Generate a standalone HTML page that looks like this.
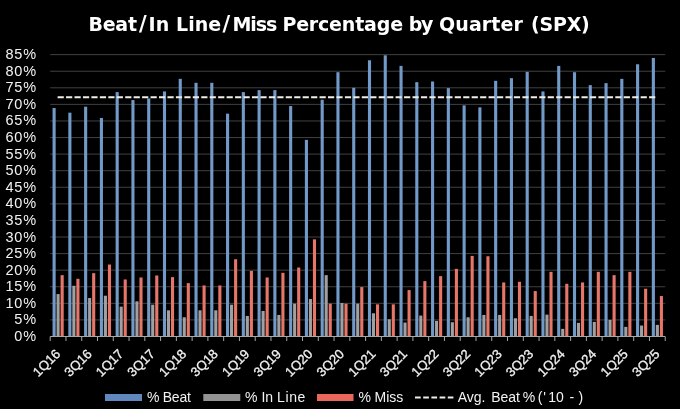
<!DOCTYPE html>
<html><head><meta charset="utf-8"><title>Beat/In Line/Miss Percentage by Quarter (SPX)</title>
<style>
html,body{margin:0;padding:0;background:#000;}
body{width:680px;height:409px;overflow:hidden;}
svg{display:block;}
text{font-family:"Liberation Sans",sans-serif;fill:#f2f2f2;}
.ti{font-family:"DejaVu Sans","Liberation Sans",sans-serif;font-weight:bold;font-size:19px;fill:#fff;}
.yl text{font-size:14.5px;letter-spacing:0.8px;}
.xl text{font-size:13.2px;stroke:#f2f2f2;stroke-width:0.3px;}
.lg{font-size:14px;}
</style></head>
<body>
<svg width="680" height="409" viewBox="0 0 680 409">
<rect width="680" height="409" fill="#000"/>
<g stroke="#404040" stroke-width="1"><line x1="50.2" y1="319.92" x2="665.23" y2="319.92"/><line x1="50.2" y1="303.34" x2="665.23" y2="303.34"/><line x1="50.2" y1="286.76" x2="665.23" y2="286.76"/><line x1="50.2" y1="270.18" x2="665.23" y2="270.18"/><line x1="50.2" y1="253.6" x2="665.23" y2="253.6"/><line x1="50.2" y1="237.02" x2="665.23" y2="237.02"/><line x1="50.2" y1="220.44" x2="665.23" y2="220.44"/><line x1="50.2" y1="203.86" x2="665.23" y2="203.86"/><line x1="50.2" y1="187.28" x2="665.23" y2="187.28"/><line x1="50.2" y1="170.7" x2="665.23" y2="170.7"/><line x1="50.2" y1="154.12" x2="665.23" y2="154.12"/><line x1="50.2" y1="137.54" x2="665.23" y2="137.54"/><line x1="50.2" y1="120.96" x2="665.23" y2="120.96"/><line x1="50.2" y1="104.38" x2="665.23" y2="104.38"/><line x1="50.2" y1="87.8" x2="665.23" y2="87.8"/><line x1="50.2" y1="71.22" x2="665.23" y2="71.22"/><line x1="50.2" y1="54.64" x2="665.23" y2="54.64"/></g>
<g fill="#729ac8"><rect x="52.55" y="108.03" width="3.1" height="228.47"/><rect x="68.32" y="112.67" width="3.1" height="223.83"/><rect x="84.09" y="106.7" width="3.1" height="229.8"/><rect x="99.86" y="117.98" width="3.1" height="218.52"/><rect x="115.63" y="92.11" width="3.1" height="244.39"/><rect x="131.4" y="100.07" width="3.1" height="236.43"/><rect x="147.17" y="98.41" width="3.1" height="238.09"/><rect x="162.94" y="91.45" width="3.1" height="245.05"/><rect x="178.71" y="78.85" width="3.1" height="257.65"/><rect x="194.48" y="82.83" width="3.1" height="253.67"/><rect x="210.25" y="82.83" width="3.1" height="253.67"/><rect x="226.02" y="113.66" width="3.1" height="222.84"/><rect x="241.79" y="92.11" width="3.1" height="244.39"/><rect x="257.56" y="90.12" width="3.1" height="246.38"/><rect x="273.33" y="90.12" width="3.1" height="246.38"/><rect x="289.1" y="106.04" width="3.1" height="230.46"/><rect x="304.87" y="139.86" width="3.1" height="196.64"/><rect x="320.64" y="99.74" width="3.1" height="236.76"/><rect x="336.41" y="72.21" width="3.1" height="264.29"/><rect x="352.18" y="87.8" width="3.1" height="248.7"/><rect x="367.95" y="60.28" width="3.1" height="276.22"/><rect x="383.72" y="55.3" width="3.1" height="281.2"/><rect x="399.49" y="65.91" width="3.1" height="270.59"/><rect x="415.26" y="82.16" width="3.1" height="254.34"/><rect x="431.03" y="81.5" width="3.1" height="255"/><rect x="446.8" y="88.13" width="3.1" height="248.37"/><rect x="462.57" y="105.37" width="3.1" height="231.13"/><rect x="478.34" y="107.36" width="3.1" height="229.14"/><rect x="494.11" y="80.84" width="3.1" height="255.66"/><rect x="509.88" y="78.18" width="3.1" height="258.32"/><rect x="525.65" y="71.88" width="3.1" height="264.62"/><rect x="541.42" y="91.45" width="3.1" height="245.05"/><rect x="557.19" y="65.91" width="3.1" height="270.59"/><rect x="572.96" y="72.21" width="3.1" height="264.29"/><rect x="588.73" y="85.15" width="3.1" height="251.35"/><rect x="604.5" y="83.16" width="3.1" height="253.34"/><rect x="620.27" y="78.85" width="3.1" height="257.65"/><rect x="636.04" y="64.26" width="3.1" height="272.24"/><rect x="651.81" y="57.96" width="3.1" height="278.54"/></g>
<g fill="#a0a0a0"><rect x="56.55" y="294.06" width="3.1" height="42.44"/><rect x="72.32" y="285.77" width="3.1" height="50.73"/><rect x="88.09" y="298.03" width="3.1" height="38.47"/><rect x="103.86" y="295.71" width="3.1" height="40.79"/><rect x="119.63" y="306.66" width="3.1" height="29.84"/><rect x="135.4" y="301.35" width="3.1" height="35.15"/><rect x="151.17" y="304.67" width="3.1" height="31.83"/><rect x="166.94" y="310.3" width="3.1" height="26.2"/><rect x="182.71" y="317.27" width="3.1" height="19.23"/><rect x="198.48" y="310.3" width="3.1" height="26.2"/><rect x="214.25" y="310.3" width="3.1" height="26.2"/><rect x="230.02" y="304.67" width="3.1" height="31.83"/><rect x="245.79" y="315.94" width="3.1" height="20.56"/><rect x="261.56" y="310.97" width="3.1" height="25.53"/><rect x="277.33" y="314.95" width="3.1" height="21.55"/><rect x="293.1" y="303.67" width="3.1" height="32.83"/><rect x="308.87" y="299.03" width="3.1" height="37.47"/><rect x="324.64" y="275.15" width="3.1" height="61.35"/><rect x="340.41" y="303.01" width="3.1" height="33.49"/><rect x="356.18" y="303.67" width="3.1" height="32.83"/><rect x="371.95" y="313.29" width="3.1" height="23.21"/><rect x="387.72" y="319.26" width="3.1" height="17.24"/><rect x="403.49" y="322.57" width="3.1" height="13.93"/><rect x="419.26" y="315.61" width="3.1" height="20.89"/><rect x="435.03" y="320.91" width="3.1" height="15.59"/><rect x="450.8" y="322.24" width="3.1" height="14.26"/><rect x="466.57" y="317.27" width="3.1" height="19.23"/><rect x="482.34" y="314.95" width="3.1" height="21.55"/><rect x="498.11" y="314.95" width="3.1" height="21.55"/><rect x="513.88" y="318.26" width="3.1" height="18.24"/><rect x="529.65" y="315.94" width="3.1" height="20.56"/><rect x="545.42" y="314.61" width="3.1" height="21.89"/><rect x="561.19" y="328.87" width="3.1" height="7.63"/><rect x="576.96" y="322.9" width="3.1" height="13.6"/><rect x="592.73" y="321.91" width="3.1" height="14.59"/><rect x="608.5" y="319.92" width="3.1" height="16.58"/><rect x="624.27" y="326.88" width="3.1" height="9.62"/><rect x="640.04" y="325.56" width="3.1" height="10.94"/><rect x="655.81" y="324.89" width="3.1" height="11.61"/></g>
<g fill="#e6756a"><rect x="60.6" y="275.15" width="3.1" height="61.35"/><rect x="76.37" y="278.8" width="3.1" height="57.7"/><rect x="92.14" y="273.16" width="3.1" height="63.34"/><rect x="107.91" y="264.54" width="3.1" height="71.96"/><rect x="123.68" y="279.46" width="3.1" height="57.04"/><rect x="139.45" y="277.48" width="3.1" height="59.02"/><rect x="155.22" y="275.49" width="3.1" height="61.01"/><rect x="170.99" y="277.14" width="3.1" height="59.36"/><rect x="186.76" y="283.11" width="3.1" height="53.39"/><rect x="202.53" y="285.43" width="3.1" height="51.07"/><rect x="218.3" y="285.43" width="3.1" height="51.07"/><rect x="234.07" y="259.24" width="3.1" height="77.26"/><rect x="249.84" y="270.84" width="3.1" height="65.66"/><rect x="265.61" y="277.48" width="3.1" height="59.02"/><rect x="281.38" y="272.83" width="3.1" height="63.67"/><rect x="297.15" y="267.53" width="3.1" height="68.97"/><rect x="312.92" y="239.34" width="3.1" height="97.16"/><rect x="328.69" y="303.67" width="3.1" height="32.83"/><rect x="344.46" y="303.67" width="3.1" height="32.83"/><rect x="360.23" y="287.09" width="3.1" height="49.41"/><rect x="376" y="304.33" width="3.1" height="32.17"/><rect x="391.77" y="304.33" width="3.1" height="32.17"/><rect x="407.54" y="290.08" width="3.1" height="46.42"/><rect x="423.31" y="281.12" width="3.1" height="55.38"/><rect x="439.08" y="276.15" width="3.1" height="60.35"/><rect x="454.85" y="268.85" width="3.1" height="67.65"/><rect x="470.62" y="255.92" width="3.1" height="80.58"/><rect x="486.39" y="256.25" width="3.1" height="80.25"/><rect x="502.16" y="282.45" width="3.1" height="54.05"/><rect x="517.93" y="281.79" width="3.1" height="54.71"/><rect x="533.7" y="291.07" width="3.1" height="45.43"/><rect x="549.47" y="271.84" width="3.1" height="64.66"/><rect x="565.24" y="283.78" width="3.1" height="52.72"/><rect x="581.01" y="282.45" width="3.1" height="54.05"/><rect x="596.78" y="271.84" width="3.1" height="64.66"/><rect x="612.55" y="275.15" width="3.1" height="61.35"/><rect x="628.32" y="271.84" width="3.1" height="64.66"/><rect x="644.09" y="288.75" width="3.1" height="47.75"/><rect x="659.86" y="296.04" width="3.1" height="40.46"/></g>
<g stroke="#a8a8a8" stroke-width="1"><line x1="50.2" y1="336.5" x2="665.23" y2="336.5"/><line x1="50.2" y1="336.5" x2="50.2" y2="341"/><line x1="65.97" y1="336.5" x2="65.97" y2="341"/><line x1="81.74" y1="336.5" x2="81.74" y2="341"/><line x1="97.51" y1="336.5" x2="97.51" y2="341"/><line x1="113.28" y1="336.5" x2="113.28" y2="341"/><line x1="129.05" y1="336.5" x2="129.05" y2="341"/><line x1="144.82" y1="336.5" x2="144.82" y2="341"/><line x1="160.59" y1="336.5" x2="160.59" y2="341"/><line x1="176.36" y1="336.5" x2="176.36" y2="341"/><line x1="192.13" y1="336.5" x2="192.13" y2="341"/><line x1="207.9" y1="336.5" x2="207.9" y2="341"/><line x1="223.67" y1="336.5" x2="223.67" y2="341"/><line x1="239.44" y1="336.5" x2="239.44" y2="341"/><line x1="255.21" y1="336.5" x2="255.21" y2="341"/><line x1="270.98" y1="336.5" x2="270.98" y2="341"/><line x1="286.75" y1="336.5" x2="286.75" y2="341"/><line x1="302.52" y1="336.5" x2="302.52" y2="341"/><line x1="318.29" y1="336.5" x2="318.29" y2="341"/><line x1="334.06" y1="336.5" x2="334.06" y2="341"/><line x1="349.83" y1="336.5" x2="349.83" y2="341"/><line x1="365.6" y1="336.5" x2="365.6" y2="341"/><line x1="381.37" y1="336.5" x2="381.37" y2="341"/><line x1="397.14" y1="336.5" x2="397.14" y2="341"/><line x1="412.91" y1="336.5" x2="412.91" y2="341"/><line x1="428.68" y1="336.5" x2="428.68" y2="341"/><line x1="444.45" y1="336.5" x2="444.45" y2="341"/><line x1="460.22" y1="336.5" x2="460.22" y2="341"/><line x1="475.99" y1="336.5" x2="475.99" y2="341"/><line x1="491.76" y1="336.5" x2="491.76" y2="341"/><line x1="507.53" y1="336.5" x2="507.53" y2="341"/><line x1="523.3" y1="336.5" x2="523.3" y2="341"/><line x1="539.07" y1="336.5" x2="539.07" y2="341"/><line x1="554.84" y1="336.5" x2="554.84" y2="341"/><line x1="570.61" y1="336.5" x2="570.61" y2="341"/><line x1="586.38" y1="336.5" x2="586.38" y2="341"/><line x1="602.15" y1="336.5" x2="602.15" y2="341"/><line x1="617.92" y1="336.5" x2="617.92" y2="341"/><line x1="633.69" y1="336.5" x2="633.69" y2="341"/><line x1="649.46" y1="336.5" x2="649.46" y2="341"/><line x1="665.23" y1="336.5" x2="665.23" y2="341"/></g>
<line x1="57.6" y1="97.35" x2="657.4" y2="97.35" stroke="#f0ede6" stroke-width="2" stroke-dasharray="6.2 2.25"/>
<g class="yl" text-anchor="end"><text x="36.9" y="341">0%</text><text x="36.9" y="324.42">5%</text><text x="36.9" y="307.84">10%</text><text x="36.9" y="291.26">15%</text><text x="36.9" y="274.68">20%</text><text x="36.9" y="258.1">25%</text><text x="36.9" y="241.52">30%</text><text x="36.9" y="224.94">35%</text><text x="36.9" y="208.36">40%</text><text x="36.9" y="191.78">45%</text><text x="36.9" y="175.2">50%</text><text x="36.9" y="158.62">55%</text><text x="36.9" y="142.04">60%</text><text x="36.9" y="125.46">65%</text><text x="36.9" y="108.88">70%</text><text x="36.9" y="92.3">75%</text><text x="36.9" y="75.72">80%</text><text x="36.9" y="59.14">85%</text></g>
<g class="xl" text-anchor="end"><text x="61.09" y="354.7" transform="rotate(-45 61.09 354.7)">1Q16</text><text x="92.62" y="354.7" transform="rotate(-45 92.62 354.7)">3Q16</text><text x="124.17" y="354.7" transform="rotate(-45 124.17 354.7)">1Q17</text><text x="155.7" y="354.7" transform="rotate(-45 155.7 354.7)">3Q17</text><text x="187.25" y="354.7" transform="rotate(-45 187.25 354.7)">1Q18</text><text x="218.79" y="354.7" transform="rotate(-45 218.79 354.7)">3Q18</text><text x="250.32" y="354.7" transform="rotate(-45 250.32 354.7)">1Q19</text><text x="281.87" y="354.7" transform="rotate(-45 281.87 354.7)">3Q19</text><text x="313.4" y="354.7" transform="rotate(-45 313.4 354.7)">1Q20</text><text x="344.94" y="354.7" transform="rotate(-45 344.94 354.7)">3Q20</text><text x="376.48" y="354.7" transform="rotate(-45 376.48 354.7)">1Q21</text><text x="408.02" y="354.7" transform="rotate(-45 408.02 354.7)">3Q21</text><text x="439.56" y="354.7" transform="rotate(-45 439.56 354.7)">1Q22</text><text x="471.1" y="354.7" transform="rotate(-45 471.1 354.7)">3Q22</text><text x="502.64" y="354.7" transform="rotate(-45 502.64 354.7)">1Q23</text><text x="534.19" y="354.7" transform="rotate(-45 534.19 354.7)">3Q23</text><text x="565.73" y="354.7" transform="rotate(-45 565.73 354.7)">1Q24</text><text x="597.26" y="354.7" transform="rotate(-45 597.26 354.7)">3Q24</text><text x="628.81" y="354.7" transform="rotate(-45 628.81 354.7)">1Q25</text><text x="660.35" y="354.7" transform="rotate(-45 660.35 354.7)">3Q25</text></g>
<text class="ti" y="30.6"><tspan x="88.4" letter-spacing="-0.2">Beat</tspan><tspan x="138.9" font-size="21">/</tspan><tspan x="148.6">In </tspan><tspan x="176.1">Line</tspan><tspan x="222.4" font-size="21">/</tspan><tspan x="232.5" letter-spacing="-1.1">Miss </tspan><tspan x="282.4" letter-spacing="-0.18">Percentage </tspan><tspan x="408.8" letter-spacing="-1.3">by </tspan><tspan x="439.1" letter-spacing="0.08">Quarter </tspan><tspan x="531" letter-spacing="-0.22">(SPX)</tspan></text>
<rect x="105" y="394" width="37" height="7" fill="#6088be"/><rect x="203.3" y="394" width="37" height="7" fill="#939393"/><rect x="317" y="394" width="36.5" height="7" fill="#e8695c"/><text class="lg" y="402"><tspan x="146.9">% </tspan><tspan x="162.8" letter-spacing="-0.27">Beat</tspan></text><text class="lg" y="402"><tspan x="244.9">% </tspan><tspan x="261.4">In </tspan><tspan x="277.1" letter-spacing="0.6">Line</tspan></text><text class="lg" y="402"><tspan x="358.4">% </tspan><tspan x="374.6">Miss</tspan></text><line x1="415" y1="397.4" x2="453.4" y2="397.4" stroke="#f0ede6" stroke-width="2" stroke-dasharray="5.7 2.5"/><text class="lg" y="402"><tspan x="457.7">Avg. </tspan><tspan x="491.2">Beat </tspan><tspan x="522.7">% </tspan><tspan x="537.7">(</tspan><tspan x="543.2">'</tspan><tspan x="548.2">10 </tspan><tspan x="569.6">- </tspan><tspan x="578.4">)</tspan></text>
</svg>
</body></html>
